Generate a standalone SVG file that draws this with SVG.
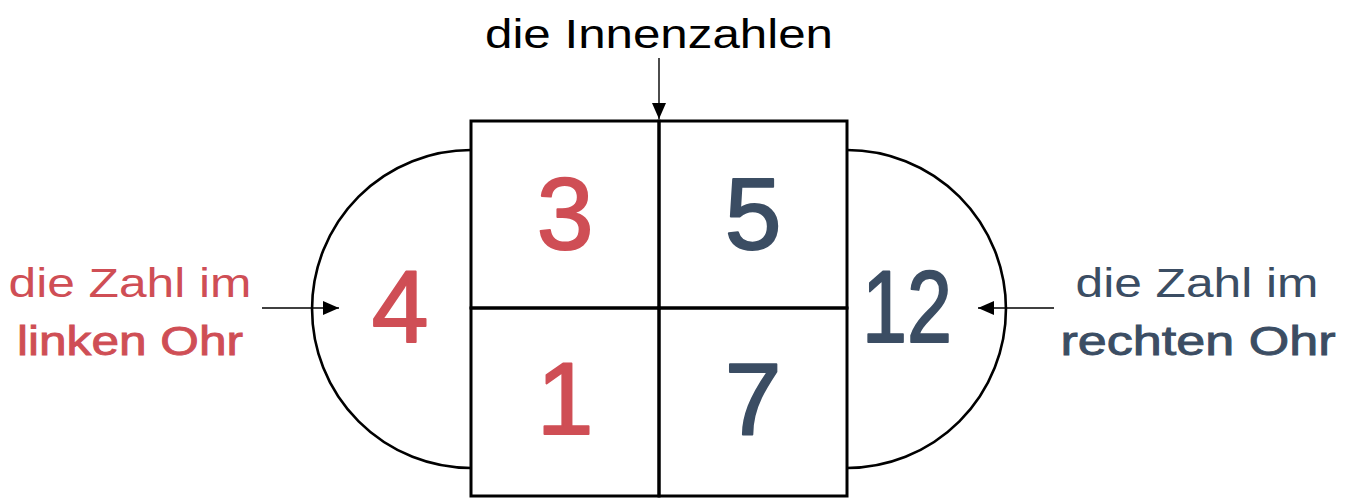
<svg xmlns="http://www.w3.org/2000/svg" width="1351" height="498" viewBox="0 0 1351 498">
<style>
.box{fill:none;stroke:#000;stroke-width:3}
.ear{fill:none;stroke:#000;stroke-width:2.6}
.con{fill:none;stroke:#000;stroke-width:1.4}
.lbl{font-family:"Liberation Sans",Arial,sans-serif;font-size:41px;text-anchor:middle}
.num{font-family:"Liberation Sans",Arial,sans-serif;font-size:102px;text-anchor:middle;stroke-width:2px;stroke-linejoin:round}
.red{fill:#CF4E55}
.blue{fill:#3B4D63}
.num.red{stroke:#CF4E55}
.num.blue{stroke:#3B4D63}
.blk{fill:#000}
.thick{stroke-width:0.9px}
.red.thick{stroke:#CF4E55}
.blue.thick{stroke:#3B4D63}
</style>
<defs>
<marker id="ah2" viewBox="0 0 16 14" refX="16" refY="7" markerWidth="16" markerHeight="14" markerUnits="userSpaceOnUse" orient="auto">
<path d="M0,0 L16,7 L0,14 Z" fill="#000"/>
</marker>
</defs>
<rect width="1351" height="498" fill="#fff"/>
<g id="left-ear">
<path class="ear" d="M471,150 A159,159 0 0 0 471,468"/>
<text class="num red" x="400" y="342">4</text>
</g>
<g id="right-ear">
<path class="ear" d="M847,150 A159,159 0 0 1 847,468"/>
<text class="num blue" x="907" y="342" textLength="90" lengthAdjust="spacingAndGlyphs">12</text>
</g>
<g id="cell-top-left">
<rect class="box" x="471" y="121" width="188" height="187"/>
<text class="num red" x="565" y="249">3</text>
</g>
<g id="cell-top-right">
<rect class="box" x="659" y="121" width="188" height="187"/>
<text class="num blue" x="753" y="249">5</text>
</g>
<g id="cell-bottom-left">
<rect class="box" x="471" y="308" width="188" height="188"/>
<text class="num red" x="565" y="434">1</text>
</g>
<g id="cell-bottom-right">
<rect class="box" x="659" y="308" width="188" height="188"/>
<text class="num blue" x="753" y="435">7</text>
</g>
<g id="label-top">
<text class="lbl blk" x="659" y="48" textLength="348" lengthAdjust="spacingAndGlyphs">die Innenzahlen</text>
</g>
<g id="label-left">
<text class="lbl red" x="130" y="297" textLength="243" lengthAdjust="spacingAndGlyphs">die Zahl im</text>
<text class="lbl red thick" x="130" y="355" textLength="226" lengthAdjust="spacingAndGlyphs">linken Ohr</text>
</g>
<g id="label-right">
<text class="lbl blue" x="1197" y="297" textLength="243" lengthAdjust="spacingAndGlyphs">die Zahl im</text>
<text class="lbl blue thick" x="1198" y="355" textLength="275" lengthAdjust="spacingAndGlyphs">rechten Ohr</text>
</g>
<g id="connectors">
<line class="con" x1="659" y1="58" x2="659" y2="119" marker-end="url(#ah2)"/>
<line class="con" x1="262" y1="308" x2="339" y2="308" marker-end="url(#ah2)"/>
<line class="con" x1="1054" y1="308" x2="978" y2="308" marker-end="url(#ah2)"/>
</g>
</svg>
